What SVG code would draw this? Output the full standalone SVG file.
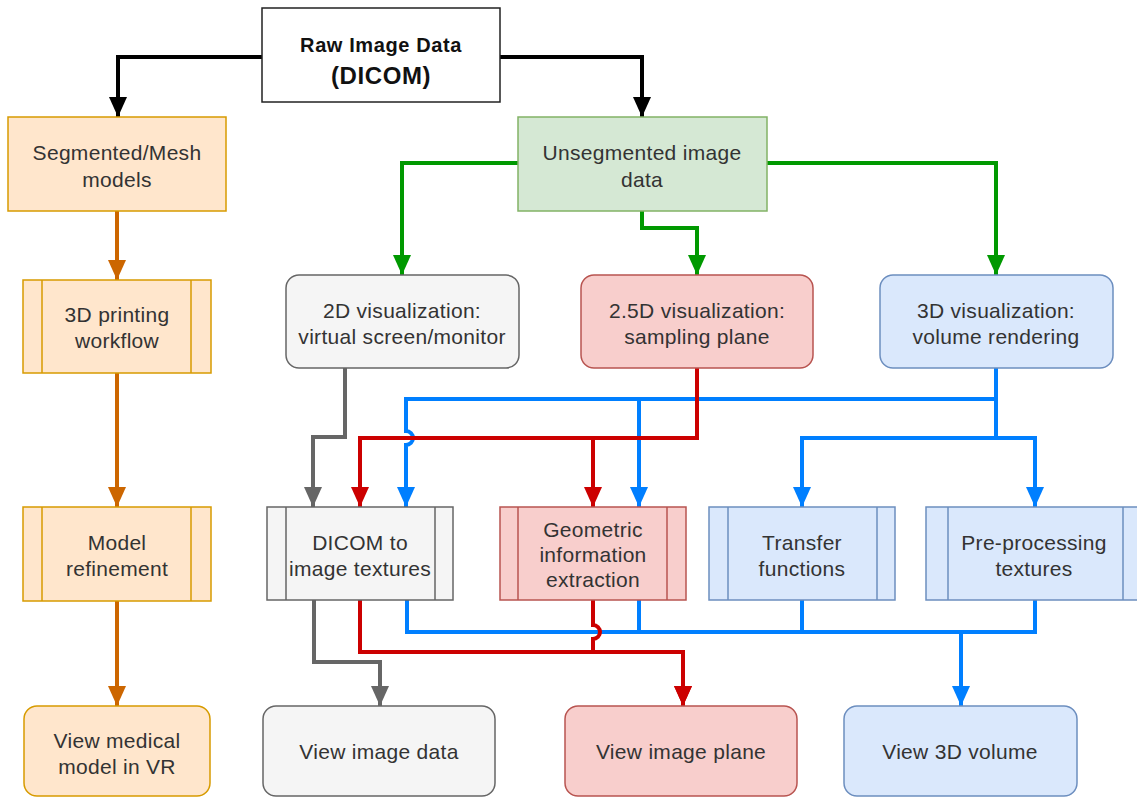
<svg xmlns="http://www.w3.org/2000/svg" width="1137" height="798" viewBox="0 0 1137 798">
<style>
text{font-family:"Liberation Sans",Arial,sans-serif;font-size:21px;letter-spacing:0.3px;fill:#333;text-anchor:middle}
.t{font-weight:bold;fill:#111;letter-spacing:0.6px}
.o{fill:#ffe6cc;stroke:#d79b00;stroke-width:1.5}
.g{fill:#d5e8d4;stroke:#82b366;stroke-width:1.5}
.gr{fill:#f5f5f5;stroke:#666;stroke-width:1.5}
.r{fill:#f8cecc;stroke:#b85450;stroke-width:1.5}
.b{fill:#dae8fc;stroke:#6c8ebf;stroke-width:1.5}
.w{fill:#fff;stroke:#222;stroke-width:1.5}
.c{fill:none;stroke-width:4;stroke-linejoin:miter}
.k{stroke:#000}.co{stroke:#cc6600}.cg{stroke:#009900}.cgr{stroke:#666}.cr{stroke:#cc0000}.cb{stroke:#007fff}
</style>
<defs>
<marker id="ak" markerUnits="userSpaceOnUse" markerWidth="20" markerHeight="18" refX="20" refY="9" orient="auto"><path d="M0,0L20,9L0,18z" fill="#000"/></marker>
<marker id="ao" markerUnits="userSpaceOnUse" markerWidth="20" markerHeight="18" refX="20" refY="9" orient="auto"><path d="M0,0L20,9L0,18z" fill="#cc6600"/></marker>
<marker id="ag" markerUnits="userSpaceOnUse" markerWidth="20" markerHeight="18" refX="20" refY="9" orient="auto"><path d="M0,0L20,9L0,18z" fill="#009900"/></marker>
<marker id="agr" markerUnits="userSpaceOnUse" markerWidth="20" markerHeight="18" refX="20" refY="9" orient="auto"><path d="M0,0L20,9L0,18z" fill="#666"/></marker>
<marker id="ar" markerUnits="userSpaceOnUse" markerWidth="20" markerHeight="18" refX="20" refY="9" orient="auto"><path d="M0,0L20,9L0,18z" fill="#cc0000"/></marker>
<marker id="ab" markerUnits="userSpaceOnUse" markerWidth="20" markerHeight="18" refX="20" refY="9" orient="auto"><path d="M0,0L20,9L0,18z" fill="#007fff"/></marker>
</defs>
<rect width="1137" height="798" fill="#fff"/>

<g id="connectors">
<path class="c k" d="M262,57H118V117" marker-end="url(#ak)"/>
<path class="c k" d="M500,57H642V117" marker-end="url(#ak)"/>
<path class="c co" d="M117,211V280" marker-end="url(#ao)"/>
<path class="c co" d="M117,373V507" marker-end="url(#ao)"/>
<path class="c co" d="M117,601V706" marker-end="url(#ao)"/>
<path class="c cg" d="M518,163H402V275" marker-end="url(#ag)"/>
<path class="c cg" d="M642,211V228H697V275" marker-end="url(#ag)"/>
<path class="c cg" d="M767,163H996V275" marker-end="url(#ag)"/>
<path class="c cgr" d="M345,368V437H313V507" marker-end="url(#agr)"/>
<path class="c cgr" d="M314,600V662H380V706" marker-end="url(#agr)"/>
<path class="c cb" d="M996,368V399H406V431A7,7 0 0 1 406,445V507" marker-end="url(#ab)"/>
<path class="c cb" d="M996,399H639V507" marker-end="url(#ab)"/>
<path class="c cb" d="M996,399V438H802V507" marker-end="url(#ab)"/>
<path class="c cb" d="M996,438H1035V507" marker-end="url(#ab)"/>
<path class="c cr" d="M697,368V438H360V507" marker-end="url(#ar)"/>
<path class="c cr" d="M697,438H593V507" marker-end="url(#ar)"/>
<path class="c cb" d="M407,600V632H961V706" marker-end="url(#ab)"/>
<path class="c cb" d="M639,600V632"/>
<path class="c cb" d="M802,600V632H961"/>
<path class="c cb" d="M1035,600V632H961"/>
<path class="c cr" d="M360,600V652H683V706" marker-end="url(#ar)"/>
<path class="c cr" d="M593,600V625A7,7 0 0 1 593,639V652H683V706" marker-end="url(#ar)"/>
</g>

<g id="raw"><rect class="w" x="262" y="8" width="238" height="94"/>
<text class="t" x="381" y="52" style="font-size:20px">Raw Image Data</text>
<text class="t" x="381" y="84" style="font-size:24px">(DICOM)</text></g>

<g id="segmented"><rect class="o" x="8" y="117" width="218" height="94"/>
<text x="117" y="160">Segmented/Mesh</text><text x="117" y="187">models</text></g>

<g id="unsegmented"><rect class="g" x="518" y="117" width="249" height="94"/>
<text x="642" y="160">Unsegmented image</text><text x="642" y="187">data</text></g>

<g id="printing"><rect class="o" x="23" y="280" width="188" height="93"/>
<path class="o" d="M42,280V373M191,280V373"/>
<text x="117" y="322">3D printing</text><text x="117" y="348">workflow</text></g>

<g id="vis2d"><rect class="gr" x="286" y="275" width="233" height="93" rx="13"/>
<text x="402" y="318">2D visualization:</text><text x="402" y="344">virtual screen/monitor</text></g>

<g id="vis25d"><rect class="r" x="581" y="275" width="232" height="93" rx="13"/>
<text x="697" y="318">2.5D visualization:</text><text x="697" y="344">sampling plane</text></g>

<g id="vis3d"><rect class="b" x="880" y="275" width="233" height="93" rx="13"/>
<text x="996" y="318">3D visualization:</text><text x="996" y="344">volume rendering</text></g>

<g id="refinement"><rect class="o" x="23" y="507" width="188" height="94"/>
<path class="o" d="M42,507V601M191,507V601"/>
<text x="117" y="550">Model</text><text x="117" y="576">refinement</text></g>

<g id="dicomtex"><rect class="gr" x="267" y="507" width="186" height="93"/>
<path class="gr" d="M286,507V600M435,507V600"/>
<text x="360" y="550">DICOM to</text><text x="360" y="576">image textures</text></g>

<g id="geometric"><rect class="r" x="500" y="507" width="186" height="93"/>
<path class="r" d="M518,507V600M667,507V600"/>
<text x="593" y="537">Geometric</text><text x="593" y="562">information</text><text x="593" y="587">extraction</text></g>

<g id="transfer"><rect class="b" x="709" y="507" width="186" height="93"/>
<path class="b" d="M728,507V600M877,507V600"/>
<text x="802" y="550">Transfer</text><text x="802" y="576">functions</text></g>

<g id="preprocessing"><rect class="b" x="926" y="507" width="218" height="93"/>
<path class="b" d="M948,507V600M1123,507V600"/>
<text x="1034" y="550">Pre-processing</text><text x="1034" y="576">textures</text></g>

<g id="viewvr"><rect class="o" x="24" y="706" width="186" height="90" rx="13"/>
<text x="117" y="748">View medical</text><text x="117" y="774">model in VR</text></g>

<g id="viewdata"><rect class="gr" x="263" y="706" width="232" height="90" rx="13"/>
<text x="379" y="759">View image data</text></g>

<g id="viewplane"><rect class="r" x="565" y="706" width="232" height="90" rx="13"/>
<text x="681" y="759">View image plane</text></g>

<g id="view3d"><rect class="b" x="844" y="706" width="233" height="90" rx="13"/>
<text x="960" y="759">View 3D volume</text></g>
</svg>
